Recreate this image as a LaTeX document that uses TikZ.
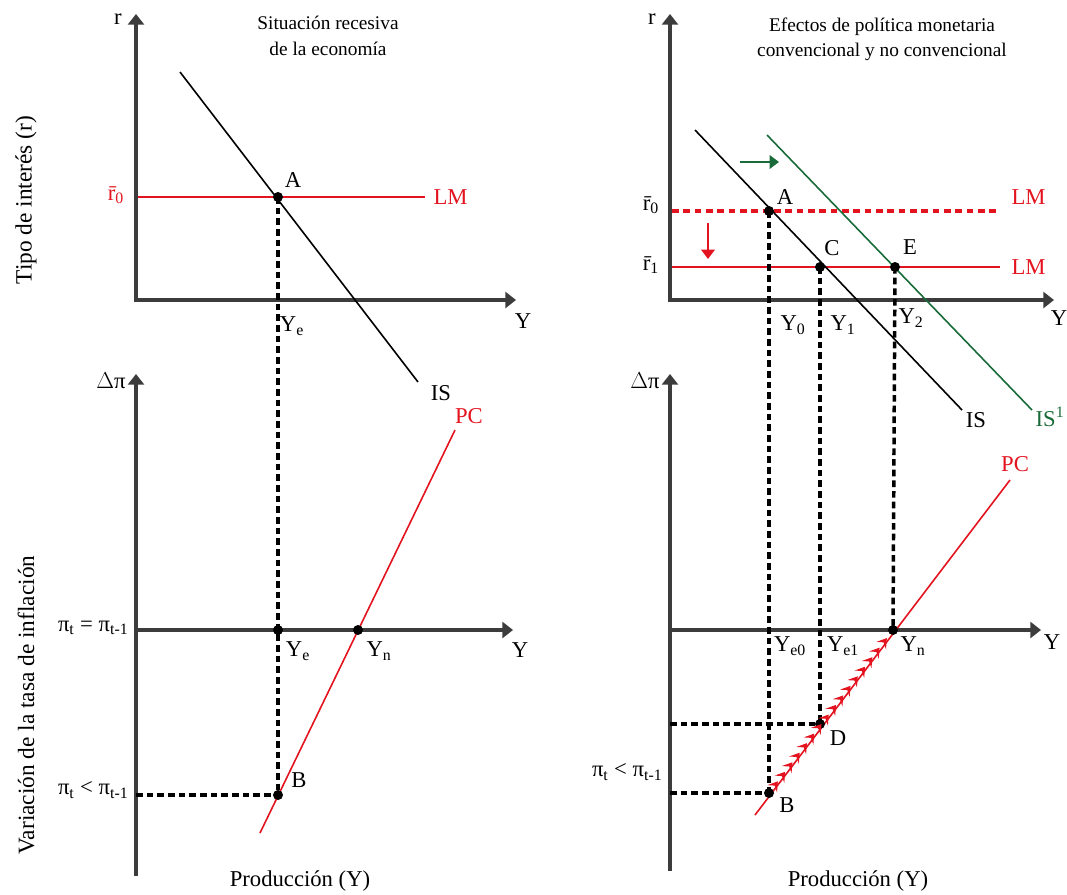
\documentclass[tikz,border=0pt]{standalone}
\usepackage{fontspec}
\setmainfont{Liberation Serif}
\usetikzlibrary{arrows.meta,decorations.markings}
\definecolor{axisgray}{HTML}{3C3C3C}
\definecolor{myred}{HTML}{E3141F}
\definecolor{mygreen}{HTML}{1A6B3A}
\begin{document}
\begin{tikzpicture}[x=0.75pt,y=-0.75pt,
  axis/.style={draw=axisgray,line width=2.3pt},
  curveline/.style={line width=1.2pt},
  dashguide/.style={draw=black,line width=2.6pt,dash pattern=on 5pt off 3pt},
  dot/.style={circle,fill=black,inner sep=0pt,minimum size=7.5pt},
  lbl/.style={font=\fontsize{17}{20}\selectfont,inner sep=1pt},
  ttl/.style={font=\fontsize{14.5}{19}\selectfont,align=center},
  side/.style={font=\fontsize{17.5}{20}\selectfont,rotate=90}]
\useasboundingbox (0,0) rectangle (1067,894);

% ================= LEFT PANEL =================
\node[ttl] (t1) at (328,36) {Situación recesiva\\de la economía};
\node[side] (s1) at (26,200) {Tipo de interés (r)};
\node[side] (s2) at (26,705) {Variación de la tasa de inflación};

% upper axes
\coordinate (L1top) at (136,14);
\coordinate (L1o) at (136,300);
\coordinate (L1right) at (516,300);
\draw[axis,{Triangle[length=8pt,width=12pt]}-{Triangle[length=8pt,width=12pt]}] (L1top) -- (L1o) -- (L1right);
\node[lbl] (r1) at (118,19) {r};
\node[lbl] (Y1) at (523,321) {Y};

% LM
\coordinate (LMl1) at (138,197);
\coordinate (LMr1) at (425,197);
\draw[curveline,myred] (LMl1) -- (LMr1);
\node[lbl,myred,anchor=west] (LM1) at (432,197) {LM};
\node[lbl,myred] (r0a) at (116,195) {\=r\textsubscript{0}};

% IS
\coordinate (ISs1) at (180,72);
\coordinate (ISe1) at (418,382);
\draw[curveline] (ISs1) -- (ISe1);
\node[lbl] (IS1) at (441,393) {IS};

% point A
\node[dot] (A1) at (278,197) {};
\node[lbl] (A1l) at (293,180) {A};
\node[lbl] (Ye1u) at (292,326) {Y\textsubscript{e}};

% lower axes
\coordinate (L2top) at (136,374);
\coordinate (L2bot) at (136,876);
\coordinate (L2l) at (136,630);
\coordinate (L2right) at (513,630);
\draw[axis,-{Triangle[length=8pt,width=12pt]}] (L2bot) -- (L2top);
\draw[axis,-{Triangle[length=8pt,width=12pt]}] (L2l) -- (L2right);
\node[lbl] (dp1) at (111,381) {$\Delta$π};
\node[lbl] (Y2) at (520,650) {Y};
\node[lbl,anchor=east] (eq1) at (130,628) {π\textsubscript{t} = π\textsubscript{t-1}};
\node[lbl,anchor=east] (lt1) at (130,790) {π\textsubscript{t} < π\textsubscript{t-1}};

% PC
\coordinate (PCs1) at (260,833);
\coordinate (PCe1) at (455,430);
\draw[curveline,myred] (PCs1) -- (PCe1);
\node[lbl,myred] (PC1) at (469,416) {PC};

\node[dot] (Ye1) at (278,630) {};
\node[dot] (Yn1) at (358,630) {};
\node[dot] (B1) at (278,795) {};
\node[lbl] (Ye1l) at (298,651) {Y\textsubscript{e}};
\node[lbl] (Yn1l) at (379,651) {Y\textsubscript{n}};
\node[lbl] (B1l) at (299,780) {B};
\coordinate (B1ax) at (136,795);
\draw[dashguide] (A1.center) -- (B1.center);
\draw[dashguide] (B1ax) -- (B1.center);

\node[lbl] (prod1) at (300,881) {Producción (Y)};

% ================= RIGHT PANEL =================
\node[ttl] (t2) at (882,39) {Efectos de política monetaria\\convencional y no convencional};

\coordinate (R1top) at (670,14);
\coordinate (R1o) at (670,300);
\coordinate (R1right) at (1054,300);
\draw[axis,{Triangle[length=8pt,width=12pt]}-{Triangle[length=8pt,width=12pt]}] (R1top) -- (R1o) -- (R1right);
\node[lbl] (r2) at (652,19) {r};
\node[lbl] (Y3) at (1059,318) {Y};

% LM lines
\coordinate (LM0l) at (672,211);
\coordinate (LM0r) at (1000,211);
\coordinate (LM1l) at (672,267);
\coordinate (LM1r) at (1000,267);
\draw[myred,line width=2.4pt,dash pattern=on 5pt off 3.5pt] (LM0l) -- (LM0r);
\draw[curveline,myred] (LM1l) -- (LM1r);
\node[lbl,myred,anchor=west] (LM2) at (1010,197) {LM};
\node[lbl,myred,anchor=west] (LM3) at (1010,267) {LM};
\node[lbl] (r0b) at (651,205) {\=r\textsubscript{0}};
\node[lbl] (r1b) at (651,265) {\=r\textsubscript{1}};

% IS lines
\coordinate (ISs2) at (695,130);
\coordinate (ISe2) at (962,410);
\draw[curveline] (ISs2) -- (ISe2);
\node[lbl] (IS2) at (976,420) {IS};
\coordinate (IS1s) at (767,135);
\coordinate (IS1e) at (1032,410);
\draw[curveline,mygreen] (IS1s) -- (IS1e);
\node[lbl,mygreen] (IS3) at (1050,417) {IS\textsuperscript{1}};

% shift arrows
\coordinate (ga) at (740,162);
\coordinate (gb) at (779,162);
\draw[mygreen,line width=2.2pt,-{Triangle[length=7pt,width=10pt]}] (ga) -- (gb);
\coordinate (ra) at (708,223);
\coordinate (rb) at (708,259);
\draw[myred,line width=2.2pt,-{Triangle[length=7pt,width=10pt]}] (ra) -- (rb);

% points
\node[dot] (A2) at (769,211) {};
\node[dot] (C2) at (820,267) {};
\node[dot] (E2) at (895,267) {};
\node[lbl] (A2l) at (785,197) {A};
\node[lbl] (C2l) at (832,248) {C};
\node[lbl] (E2l) at (910,247) {E};
\node[lbl] (Y0l) at (793,325) {Y\textsubscript{0}};
\node[lbl] (Y1l) at (843,325) {Y\textsubscript{1}};
\node[lbl] (Y2l) at (911,318) {Y\textsubscript{2}};

% lower axes
\coordinate (R2top) at (670,374);
\coordinate (R2bot) at (670,871);
\coordinate (R2l) at (670,630);
\coordinate (R2right) at (1041,630);
\draw[axis,-{Triangle[length=8pt,width=12pt]}] (R2bot) -- (R2top);
\draw[axis,-{Triangle[length=8pt,width=12pt]}] (R2l) -- (R2right);
\node[lbl] (dp2) at (645,381) {$\Delta$π};
\node[lbl] (Y4) at (1052,642) {Y};
\node[lbl,anchor=east] (lt2) at (664,772) {π\textsubscript{t} < π\textsubscript{t-1}};

% PC
\coordinate (PCs2) at (755,815);
\coordinate (PCe2) at (1010,480);
\draw[curveline,myred] (PCs2) -- (PCe2);
\node[lbl,myred] (PC2) at (1015,464) {PC};

\node[dot] (Yn2) at (893,630) {};
\node[dot] (B2) at (769,793) {};
\node[dot] (D2) at (820,724) {};
\node[lbl] (B2l) at (787,805) {B};
\node[lbl] (D2l) at (838,738) {D};
\node[lbl] (Ye0l) at (790,646) {Y\textsubscript{e0}};
\node[lbl] (Ye1r) at (843,646) {Y\textsubscript{e1}};
\node[lbl] (Yn2l) at (913,646) {Y\textsubscript{n}};

\coordinate (B2ax) at (670,793);
\coordinate (D2ax) at (670,724);
\draw[dashguide] (A2.center) -- (B2.center);
\draw[dashguide] (C2.center) -- (D2.center);
\draw[dashguide] (E2.center) -- (Yn2.center);
\draw[dashguide] (B2ax) -- (B2.center);
\draw[dashguide] (D2ax) -- (D2.center);

% chevrons along PC
\path[postaction={decorate},decoration={markings,
  mark=between positions 11pt and 1 step 9pt with {\arrow[myred,line width=1pt]{Stealth[length=7pt,width=9pt,inset=3pt]}}}]
  (B2.center) -- (Yn2.center);

\node[lbl] (prod2) at (858,881) {Producción (Y)};
\end{tikzpicture}
\end{document}
